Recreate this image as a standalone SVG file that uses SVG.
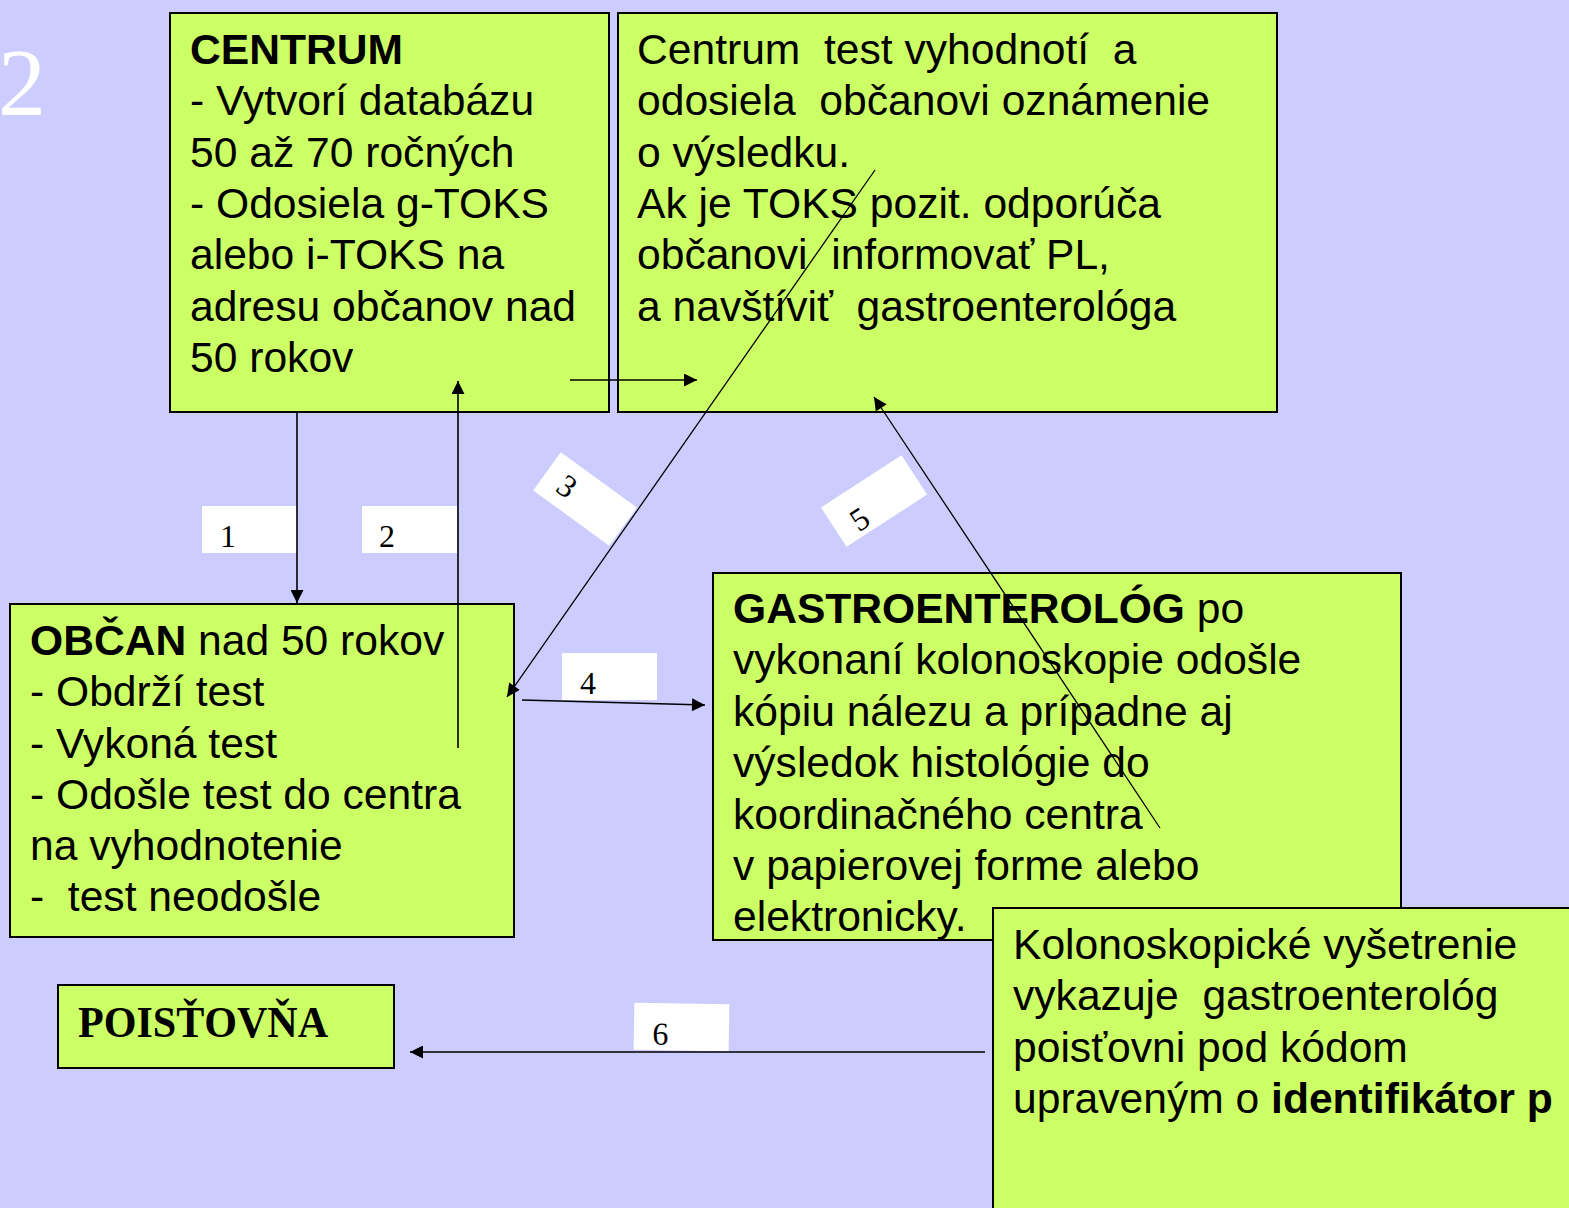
<svg xmlns="http://www.w3.org/2000/svg" width="1569" height="1208" viewBox="0 0 1569 1208">
<defs>
<style>
.box{fill:#CCFF66;stroke:#000;stroke-width:2}
.t{font-family:"Liberation Sans",Arial,sans-serif;font-size:42.6px;fill:#000;white-space:pre}
.b{font-weight:bold}
.lab{fill:#fff}
.num{font-family:"Liberation Serif","Times New Roman",serif;font-size:32px;fill:#000}
.c{stroke:#000;stroke-width:1.6;fill:none}
.cd{stroke:#000;stroke-width:1.3;fill:none}
</style>
<marker id="ah" viewBox="0 0 10 10" refX="10" refY="5" markerUnits="userSpaceOnUse" markerWidth="15" markerHeight="13" orient="auto">
<path d="M0,0 L10,5 L0,10 z" fill="#000"/>
</marker>
</defs>
<rect x="0" y="0" width="1569" height="1208" fill="#CCCCFF"/>
<text x="-2" y="115" font-family="Liberation Serif,'Times New Roman',serif" font-size="96" fill="#fff">2</text>

<g id="centrum">
<rect class="box" x="170" y="13" width="439" height="399"/>
<text class="t" x="190" y="64"><tspan class="b">CENTRUM</tspan><tspan x="190" y="115">- Vytvorí databázu</tspan><tspan x="190" y="167">50 až 70 ročných</tspan><tspan x="190" y="218">- Odosiela g-TOKS</tspan><tspan x="190" y="269">alebo i-TOKS na</tspan><tspan x="190" y="321">adresu občanov nad</tspan><tspan x="190" y="372">50 rokov</tspan></text>
</g>

<g id="vyhodnotenie">
<rect class="box" x="618" y="13" width="659" height="399"/>
<text class="t" x="637" y="64">Centrum  test vyhodnotí  a<tspan x="637" y="115">odosiela  občanovi oznámenie</tspan><tspan x="637" y="167">o výsledku.</tspan><tspan x="637" y="218">Ak je TOKS pozit. odporúča</tspan><tspan x="637" y="269">občanovi  informovať PL,</tspan><tspan x="637" y="321">a navštíviť  gastroenterológa</tspan></text>
</g>

<g id="obcan">
<rect class="box" x="10" y="604" width="504" height="333"/>
<text class="t" x="30" y="655"><tspan class="b">OBČAN</tspan> nad 50 rokov<tspan x="30" y="706">- Obdrží test</tspan><tspan x="30" y="758">- Vykoná test</tspan><tspan x="30" y="809">- Odošle test do centra</tspan><tspan x="30" y="860">na vyhodnotenie</tspan><tspan x="30" y="911">-  test neodošle</tspan></text>
</g>

<g id="gastroenterolog">
<rect class="box" x="713" y="573" width="688" height="367"/>
<text class="t" x="733" y="623"><tspan class="b">GASTROENTEROLÓG</tspan> po<tspan x="733" y="674">vykonaní kolonoskopie odošle</tspan><tspan x="733" y="726">kópiu nálezu a prípadne aj</tspan><tspan x="733" y="777">výsledok histológie do</tspan><tspan x="733" y="829">koordinačného centra</tspan><tspan x="733" y="880">v papierovej forme alebo</tspan><tspan x="733" y="931">elektronicky.</tspan></text>
</g>

<g id="vykazovanie">
<rect class="box" x="993" y="908" width="620" height="340"/>
<text class="t" x="1013" y="959">Kolonoskopické vyšetrenie<tspan x="1013" y="1010">vykazuje  gastroenterológ</tspan><tspan x="1013" y="1062">poisťovni pod kódom</tspan><tspan x="1013" y="1113">upraveným o <tspan class="b">identifikátor p</tspan></tspan></text>
</g>

<g id="poistovna">
<rect class="box" x="58" y="985" width="336" height="83"/>
<text x="78" y="1037" font-family="Liberation Serif,'Times New Roman',serif" font-size="44" font-weight="bold" textLength="250" lengthAdjust="spacingAndGlyphs">POISŤOVŇA</text>
</g>

<g id="labels">
<rect class="lab" x="202" y="506" width="95" height="47"/>
<text class="num" x="220" y="547">1</text>
<rect class="lab" x="362" y="506" width="95" height="47"/>
<text class="num" x="379" y="547">2</text>
<g transform="translate(585,499) rotate(36)">
<rect class="lab" x="-47" y="-23.5" width="94" height="47"/>
<text class="num" x="-30" y="11">3</text>
</g>
<rect class="lab" x="562" y="653" width="95" height="47"/>
<text class="num" x="580" y="694">4</text>
<g transform="translate(874,501) rotate(-33)">
<rect class="lab" x="-48" y="-23.5" width="96" height="47"/>
<text class="num" x="-30" y="18">5</text>
</g>
<g transform="translate(681.5,1027) rotate(1)">
<rect class="lab" x="-47.5" y="-23.5" width="95" height="47"/>
<text class="num" x="-29" y="18">6</text>
</g>
</g>

<g id="connectors">
<line class="c" x1="297" y1="413" x2="297" y2="603" marker-end="url(#ah)"/>
<line class="c" x1="458" y1="748" x2="458" y2="381" marker-end="url(#ah)"/>
<line class="c" x1="570" y1="380" x2="697" y2="380" marker-end="url(#ah)"/>
<line class="cd" x1="875" y1="170" x2="507" y2="697" marker-end="url(#ah)"/>
<line class="c" x1="522" y1="700" x2="705" y2="705" marker-end="url(#ah)"/>
<line class="cd" x1="1160" y1="828" x2="874" y2="397" marker-end="url(#ah)"/>
<line class="c" x1="985" y1="1052" x2="410" y2="1052" marker-end="url(#ah)"/>
</g>
</svg>
